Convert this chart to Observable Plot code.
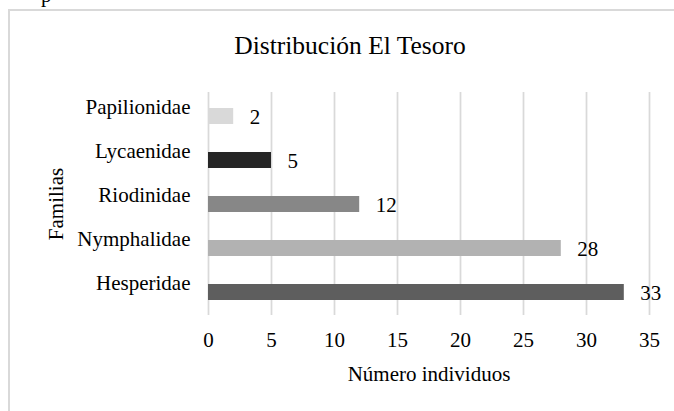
<!DOCTYPE html>
<html>
<head>
<meta charset="utf-8">
<script src="https://cdn.jsdelivr.net/npm/d3@7"></script>
<script src="https://cdn.jsdelivr.net/npm/@observablehq/plot@0.6"></script>
<style>
html, body { margin: 0; padding: 0; background: #fff; overflow: hidden; }
#wrap { position: relative; width: 674px; height: 411px; overflow: hidden; font-family: "Liberation Serif", "Times New Roman", serif; color: #000; }
#frame { position: absolute; left: 8px; top: 9px; width: 720px; height: 460px; border: 2px solid #d9d9d9; box-sizing: border-box; pointer-events: none; }
#frag { position: absolute; left: 41px; top: -14.6px; font-size: 21px; line-height: 21px; }
#title { position: absolute; left: 0; width: 700px; top: 32.6px; text-align: center; font-size: 25.5px; line-height: 25.5px; }
#chart { position: absolute; left: 0; top: 0; }
#chart svg text { font-family: "Liberation Serif", "Times New Roman", serif !important; }
</style>
</head>
<body>
<div id="wrap">
  <div id="frag">p</div>
  <div id="chart"></div>
  <div id="title">Distribución El Tesoro</div>
  <div id="frame"></div>
</div>
<script>
const families = ["Papilionidae", "Lycaenidae", "Riodinidae", "Nymphalidae", "Hesperidae"];
const counts = [2, 5, 12, 28, 33];
const colors = ["#d9d9d9", "#262626", "#878787", "#b2b2b2", "#5e5e5e"];
const xTicks = [0, 5, 10, 15, 20, 25, 30, 35];
const xLabel = "Número individuos";
const yLabel = "Familias";

const data = families.map((f, i) => ({family: f, count: counts[i]}));
const serif = '"Liberation Serif", "Times New Roman", serif';

const chart = Plot.plot({
  width: 674,
  height: 411,
  marginLeft: 208,
  marginRight: 25,
  marginTop: 92,
  marginBottom: 96,
  style: "font-family: 'Liberation Serif', 'Times New Roman', serif; font-size: 21px; background: transparent; color: #000; overflow: visible;",
  x: {domain: [0, 35]},
  y: {domain: families, paddingInner: 0.64, paddingOuter: 0.32},
  color: {domain: families, range: colors},
  marks: [
    Plot.gridX(xTicks, {stroke: "#d9d9d9", strokeOpacity: 1, strokeWidth: 1.75}),
    Plot.barX(data, {x: "count", y: "family", fill: "family"}),
    Plot.text(data, {x: "count", y: "family", text: d => String(d.count), textAnchor: "start", dx: 16, dy: 1, fontSize: 21, fontFamily: serif, fill: "#000"}),
    Plot.axisX(xTicks, {tickSize: 0, tickPadding: 17, fontSize: 21, fontFamily: serif, fill: "#000", label: null}),
    Plot.axisY({tickSize: 0, tickPadding: 18, dy: -9, fontSize: 21, fontFamily: serif, fill: "#000", label: null}),
    Plot.text([xLabel], {frameAnchor: "bottom", lineAnchor: "bottom", textAnchor: "middle", dy: 65, fontSize: 21, fontFamily: serif, fill: "#000"}),
    Plot.text([yLabel], {frameAnchor: "left", textAnchor: "middle", lineAnchor: "middle", rotate: -90, dx: -152, fontSize: 21, fontFamily: serif, fill: "#000"})
  ]
});
document.getElementById("chart").appendChild(chart);
</script>
</body>
</html>
